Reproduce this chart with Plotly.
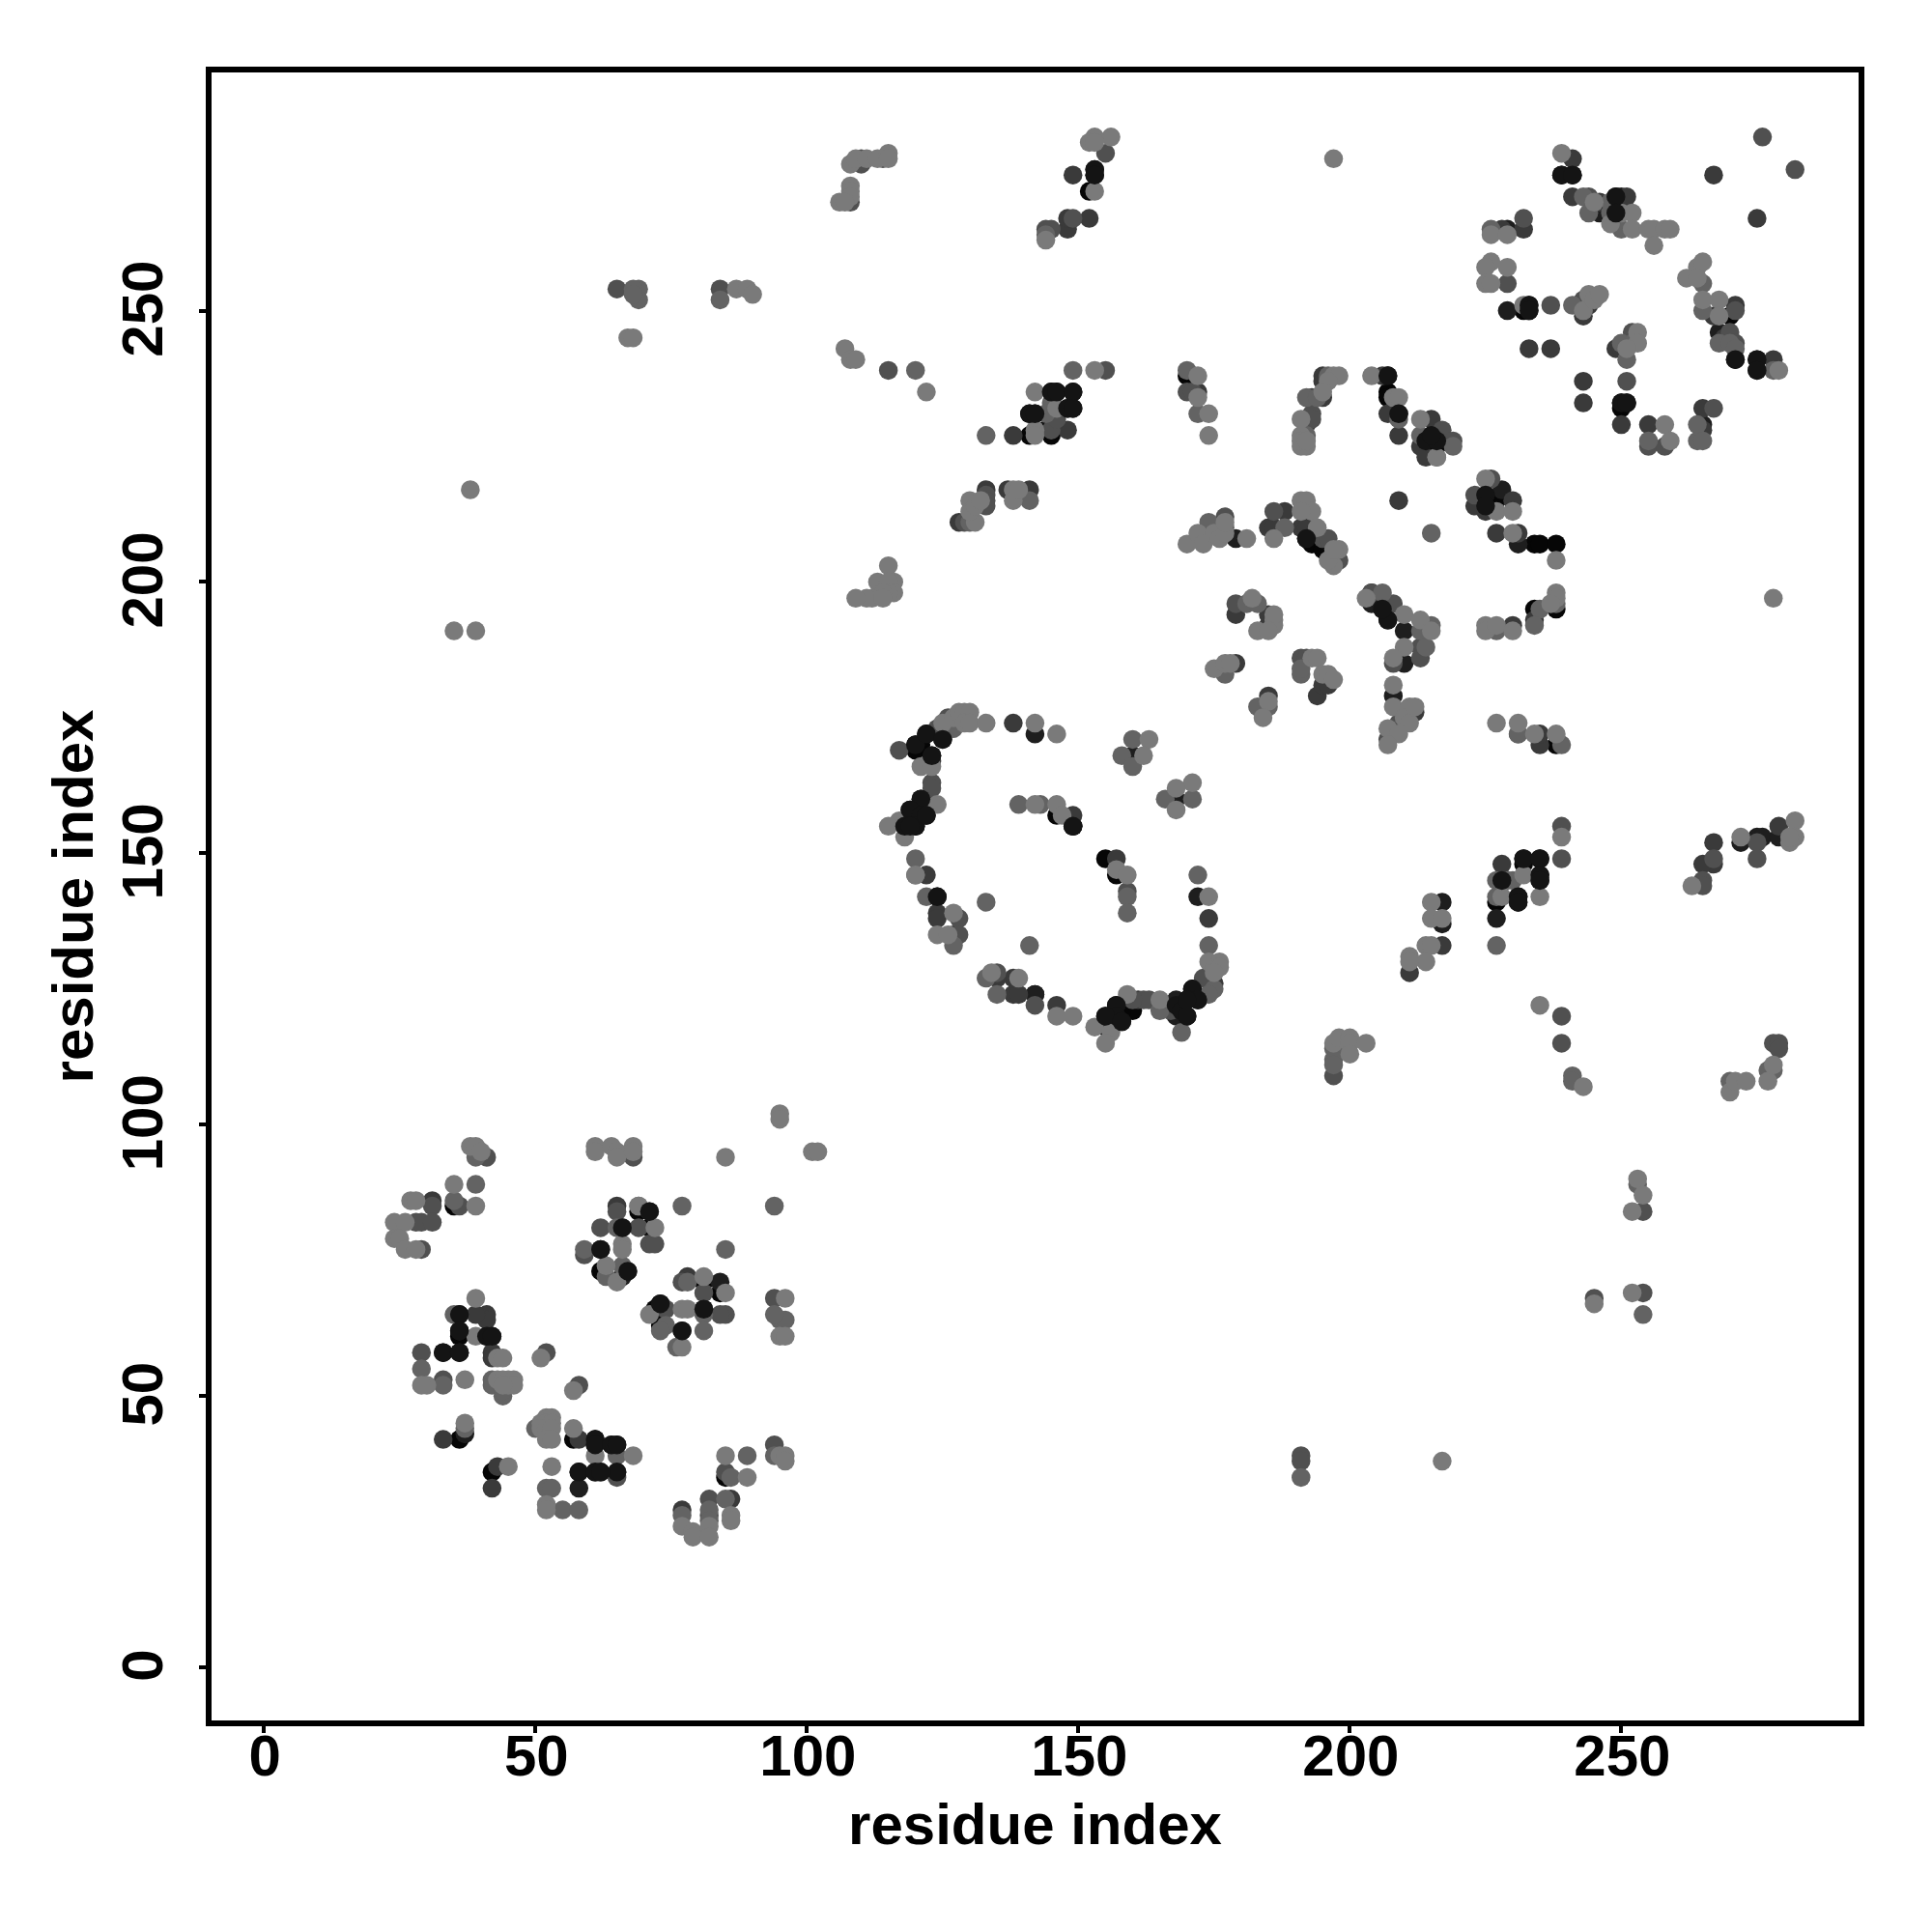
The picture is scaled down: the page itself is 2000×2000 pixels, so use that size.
import plotly.graph_objects as go

tick_values = [0, 50, 100, 150, 200, 250]
axis_title = "residue index"

black = [(35,85),(36,61),(41,61),(42,61),(69,84),(71,81),(62,73),(73,67),(72,66),(73,63),(84,69),(81,71),(57,42),(61,42),(61,41),(36,42),(42,36),(85,35),
 (120,170),(120,169),(122,172),(121,170),(123,168),(125,171),(121,160),(119,158),(121,157),(120,156),(118,155),(119,155),(120,155),(122,157),(124,142),(146,157),(157,146),(171,125),(172,123),(170,123),(168,122),(169,121),(170,120),(160,121),(158,121),(157,122),(157,120),(158,119),(155,120),(155,118),(156,118),(142,124),(155,149),(149,155),
 (192,208),(193,207),(195,206),(225,216),(225,214),(227,215),(234,207),(235,207),(238,207),(234,195),(238,195),(206,195),(207,193),(238,170),
 (232,149),(235,149),(232,148),(228,145),(235,146),(235,145),(227,141),(231,142),(231,141),
 (145,235),(146,235),(149,235),(145,231),(148,232),(149,232),(141,231),(142,231),(141,227),(144,228),(145,227),(170,238),(152,272),
 (249,271),(249,268),(232,250),(233,251),(233,250),(250,233),(251,233),(250,232),(270,249),
 (207,238),(207,235),(207,234),(214,226),(216,226),(214,225),(216,225)]
vdark = [(36,65),(36,62),(33,58),(36,58),(66,81),(62,77),(67,73),(66,72),(81,66),(77,62),(84,71),(58,36),(61,36),(58,33),(65,41),(37,43),
 (142,172),(168,123),(168,120),(160,168),(168,160),(172,142),(142,124),(149,155),(153,276),(153,275),
 (204,198),(204,196),(228,217),(231,207),(210,191),(210,185),(208,179),(217,137),(239,275),(241,275),(246,268),(250,271),(229,250),(268,246),(271,241),(275,241),(275,239),(265,229),(272,152),(275,153),(276,153),(279,153),(229,265),(217,141),(227,138),(179,208),(197,204),
 (209,231),(215,227)]
dark = [(31,86),(41,65),(41,64),(39,65),(33,42),(58,42),(64,41),(65,36),(62,36),(43,37),(42,33),(71,84),(65,85),(78,72),(42,58),(42,57),(86,31),(77,29),
 (122,146),(124,139),(124,138),(127,135),(138,174),(138,127),(138,124),(139,124),(135,127),(146,122),(175,126),(174,138),(149,157),(157,149),(122,159),(123,167),(161,123),
 (185,210),(186,210),(188,213),(191,210),(192,210),(179,194),(185,194),(185,192),(179,185),(185,179),(194,179),(195,181),(196,181),(211,176),(212,176),(209,215),(223,214),(230,215),(225,213),(227,209),(231,209),(230,192),(234,193),(235,170),(235,172),(228,148),(267,152),(267,148),(265,148),(279,155),(211,128),(217,133),(149,275),(148,265),(148,267),(152,267),(138,227),(148,228),(128,211),(133,217),(137,217),(141,217),(172,235),(241,278),(241,271),(246,270),(267,275),(275,267),(232,265),(233,243),(237,243),(243,237),(243,233),(243,249),(244,251),(249,243),(250,243),(250,229),(255,229),(265,232),(265,228),(267,249),(271,251),(269,245),(278,241),(251,271),(228,265),
 (195,238),(195,237),(195,234),(193,234),(192,229),(206,238),(207,231),(209,227),(215,230),(213,225),(214,223)]
mdark = [(41,94),(31,85),(28,82),(29,82),(31,82),(29,77),(36,85),(68,94),(65,84),(62,81),(69,81),(71,78),(72,78),(59,76),(85,65),(84,65),(74,66),(81,69),(29,58),(33,53),(52,58),(58,52),(77,71),(94,41),(94,68),(65,35),(82,31),(82,28),(85,36),(191,39),(191,38),(254,84),(254,69),(245,68),(65,254),(84,254),
 (117,169),(124,173),(126,175),(123,163),(123,162),(128,138),(128,135),(135,128),(142,122),(162,123),(163,123),(160,123),(167,121),(159,143),
 (174,127),(173,127),(186,213),(179,196),(177,212),(195,208),(196,208),(198,204),(226,219),(223,216),(213,188),(213,186),(208,185),(209,174),(207,171),(204,198),(208,196),(191,186),(192,186),(239,120),(239,115),(197,109),(265,145),(265,144),(267,149),(275,152),(275,149),(239,155),(239,149),(231,172),(278,115),(279,115),(279,114),
 (110,277),(110,278),(114,278),(108,270),(155,279),(144,265),(145,265),(149,267),(115,239),(155,239),(145,228),(146,230),(170,235),(171,235),(133,216),(133,215),(133,214),(129,211),
 (244,271),(243,252),(252,246),(229,255),(232,267),(237,251),(282,276),(276,282),(251,237),(267,232),(270,246),(271,244),(271,250),(255,225),(258,225),
 (193,231),(193,230),(217,228),(219,226)]
mid = [(39,94),(35,86),(39,89),(65,81),(69,85),(59,77),(63,72),(66,74),(77,85),(94,85),(85,77),(81,65),(81,62),(76,59),(74,63),(73,62),(78,71),(95,64),(96,64),(94,65),
 (35,65),(29,55),(33,52),(42,53),(42,52),(44,50),(44,51),(50,44),(52,33),(53,33),(55,29),(58,29),(37,44),(65,39),(86,35),(85,31),(82,29),(82,27),(77,28),(89,39),(94,39),(254,65),(69,254),(68,254),(69,252),(68,253),(84,252),(191,35),
 (127,173),(120,149),(120,146),(122,142),(127,133),(133,141),(141,133),(139,159),(143,159),(159,142),(159,139),(172,146),(174,133),(135,124),(169,117),(166,160),(171,160),(160,171),(158,168),(160,166),(133,127),(175,125),(174,124),(165,121),
 (174,211),(177,210),(188,210),(181,196),(183,196),(177,183),(183,177),(185,177),(191,183),(191,184),(206,198),(215,209),(213,191),(215,192),(214,188),(227,191),(238,196),(235,195),(231,172),(234,192),(239,170),(227,145),(229,145),(230,145),(227,142),(227,133),(197,114),(197,112),(241,109),(241,108),(270,108),(277,110),(278,110),
 (133,227),(120,239),(149,239),(145,233),(144,231),(170,239),(172,231),(130,211),(144,264),(141,215),(197,111),
 (243,271),(244,268),(248,270),(250,265),(226,265),(250,244),(251,241),(252,244),(264,229),(264,226),(265,226),(265,255),(265,250),(268,244),(270,244),(271,243),(255,226),(241,251),(243,250),(278,239),(248,268),(253,89),
 (196,238),(192,234),(194,234),(192,227),(209,230),(213,227),(219,225),(216,223)]
light = [(38,96),(39,96),(40,95),(35,89),(27,86),(28,86),(39,85),(24,82),(26,82),(24,79),(25,79),(26,77),(28,77),(61,96),(61,95),(64,96),(65,95),(65,94),(68,96),(68,95),(69,85),(66,78),(66,77),(72,81),(63,74),(65,71),(85,94),(95,102),(95,101),(101,95),(102,95),(81,72),(85,69),(71,65),(77,66),(78,66),(77,59),(96,68),(95,61),(96,61),
 (39,68),(39,61),(43,57),(44,57),(30,52),(29,52),(37,53),(43,53),(44,53),(45,53),(46,53),(45,52),(46,52),(44,52),(51,57),(57,51),(51,45),(52,46),(53,46),(52,45),(53,45),(51,44),(52,44),(53,44),(52,42),(53,42),(57,44),(61,39),(68,39),(53,37),(52,30),(52,29),(37,45),(45,37),(95,39),(96,39),(96,38),(85,39),(89,35),(86,28),(86,27),(77,26),(79,25),(79,24),(82,26),(82,24),
 (38,217),(35,191),(39,191),(217,38),(252,84),(252,69),(245,67),(253,90),(254,87),(67,245),(68,245),(87,254),(89,254),(90,253),(197,278),(278,197),
 (121,166),(123,166),(125,174),(127,175),(128,176),(129,176),(130,176),(129,174),(130,174),(133,174),(142,174),(146,172),(124,159),(117,156),(115,155),(118,153),(120,146),(127,139),(124,135),(126,135),(134,128),(139,127),(146,120),(149,120),(142,159),(146,159),(147,157),(157,147),(159,146),(174,142),(174,130),(176,130),(175,129),(176,129),(175,128),(159,124),(165,123),(153,118),(156,117),(155,115),(163,171),(162,168),(171,163),(168,162),(168,158),
 (170,207),(172,209),(173,207),(175,209),(176,208),(177,209),(177,211),(181,208),(186,208),(191,215),(192,215),(193,213),(191,213),(194,210),(197,203),(196,204),(198,206),(197,206),(182,197),(186,193),(186,192),(186,194),(183,191),(185,191),(175,184),(177,185),(178,185),(185,178),(184,175),(193,186),(194,186),(195,183),(196,183),(197,182),(203,197),(210,194),(213,193),(215,191),(210,188),(208,186),(208,181),(208,177),(211,177),(210,175),(211,174),(207,173),(209,172),(207,170),(212,177),
 (225,219),(227,213),(230,213),(230,209),(238,204),(225,192),(225,191),(227,192),(230,191),(238,198),(238,197),(237,196),(227,174),(231,174),(234,172),(238,172),(239,153),(215,141),(215,138),(217,138),(214,133),(215,133),(211,131),(214,130),(211,130),(232,146),(228,142),(235,142),(235,122),(243,107),(197,115),(198,116),(200,116),(200,115),(200,113),(203,115),(263,144),(272,153),(282,156),(281,152),(282,153),(281,153),(270,106),(271,108),(273,108),(277,108),(278,111),
 (108,273),(108,272),(108,271),(106,270),(107,270),(108,277),(109,278),(111,278),(113,278),(115,279),(115,278),(156,282),(153,282),(152,281),(153,281),(153,272),(144,263),(107,243),(108,241),(109,241),(122,235),(153,239),(142,235),(146,232),(142,228),(142,227),(172,238),(172,234),(174,231),(174,227),(131,211),(130,215),(130,213),(131,214),(132,215),(138,217),(138,215),(139,217),
 (115,203),(113,200),(116,200),(115,200),(116,198),(115,198),(114,198),(112,197),(111,197),(114,197),(109,197),
 (239,279),(250,268),(252,268),(248,266),(252,265),(255,265),(256,265),(258,265),(259,265),(256,262),(226,264),(229,264),(226,259),(225,258),(229,258),(225,255),(226,255),(232,251),(243,250),(244,253),(245,252),(246,253),(245,270),(253,246),(253,244),(251,243),(258,229),(259,226),(262,256),(264,258),(265,259),(264,256),(265,252),(268,252),(268,249),(279,239),
 (197,238),(198,238),(196,237),(195,235),(191,230),(191,227),(191,225),(192,225),(191,226),(192,226),(204,238),(208,234),(209,234),(213,230),(216,223)]
top_dark = [(71,84),(66,81),(62,77),(67,73),(81,66),(77,62),(73,67),(41,61),(42,61),(36,65),(36,62),(33,58),(36,58),(61,42),(61,41),(64,41),(65,41),(65,36),(58,36),(61,36),(62,36),
 (120,170),(122,172),(123,168),(125,171),(121,160),(119,158),(121,157),(120,155),(118,155),(119,155),(122,157),(124,142),(149,155),(157,122),(157,120),(155,120),(158,119),(168,122),(169,121),(170,120),(171,125),(172,123),(170,123),
 (225,216),(225,214),(207,193),(206,195),(192,208),(232,149),(235,149),(235,146),(235,145),(231,142),(231,141),(228,145),(145,235),(146,235),(149,235),(148,232),(149,232),(141,231),(142,231),(153,276),(153,275),(239,275),(241,275),(250,233),(251,233),(233,251),(233,250),(249,271),(249,268),(271,241),(275,241),(275,239),(207,238),(214,226),(216,226),(209,231),(215,227)]

levels = [("#060606", black), ("#1e1e1e", vdark), ("#3a3a3a", dark), ("#505050", mdark), ("#636363", mid), ("#7a7a7a", light), ("#141414", top_dark)]

fig = go.Figure()
for color, pts in levels:
    fig.add_trace(go.Scatter(x=[p[0] for p in pts], y=[p[1] for p in pts], mode="markers",
                             marker=dict(color=color, size=19.5, line=dict(width=0)), showlegend=False, hoverinfo="skip"))

axis_style = dict(tickvals=tick_values, ticks="outside", ticklen=7, tickwidth=4,
                  tickcolor="black", showgrid=False, zeroline=False, showline=True, linecolor="black",
                  linewidth=6, mirror=True, tickfont=dict(family="Liberation Sans", size=60, color="black", weight="bold"),
                  title=dict(text=axis_title, font=dict(family="Liberation Sans", size=60, color="black", weight="bold")))
fig.update_layout(width=2000, height=2000, autosize=False, plot_bgcolor="white", paper_bgcolor="white",
                  margin=dict(l=211, r=84, t=66.5, b=227, autoexpand=False),
                  xaxis=dict(**axis_style, range=[-9.66, 293.7], ticklabelstandoff=-28, ticklabelshift=1),
                  yaxis=dict(**axis_style, range=[-9.79, 293.9], tickangle=-90, ticklabelstandoff=14, ticklabelshift=7))
fig.update_xaxes(title_standoff=19)
fig.update_yaxes(title_standoff=0)
fig.write_html("out.html")
